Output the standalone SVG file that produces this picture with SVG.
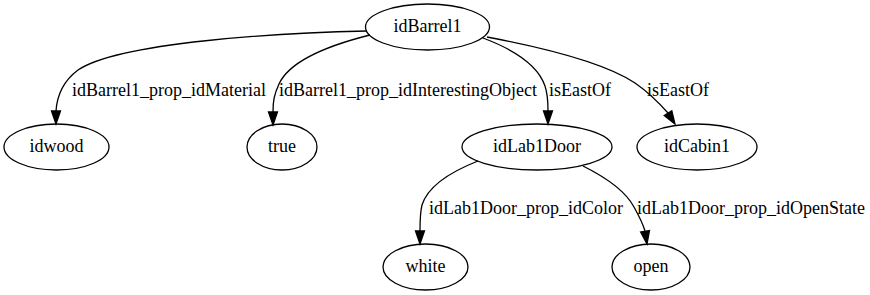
<svg xmlns="http://www.w3.org/2000/svg" width="870" height="295" viewBox="0 0 870 295">
  <style>
    .node ellipse { fill: none; stroke: #000; stroke-width: 1.3; }
    .node text, .edge text { font-family: "Liberation Serif", "Times New Roman", serif; font-size: 18px; fill: #000; text-anchor: middle; }
    .edge path { fill: none; stroke: #000; stroke-width: 1.3; }
    .edge polygon { fill: #000; stroke: #000; stroke-width: 1.3; }
  </style>
  <rect width="870" height="295" fill="#fff"/>

  <!-- connectors -->
  <g id="edges">
    <g class="edge" id="e_barrel_wood">
      <path d="M367,31 C280,33 120,42 78,70 C62,82 57,96 56,111"/>
      <polygon points="51.5,111 56,124 60.5,111"/>
      <text x="169" y="96">idBarrel1_prop_idMaterial</text>
    </g>
    <g class="edge" id="e_barrel_true">
      <path d="M370,35 C330,45 290,60 279,84 C274,95 273,101 273,112"/>
      <polygon points="268.5,112 273,125 277.5,112"/>
      <text x="408" y="96">idBarrel1_prop_idInterestingObject</text>
    </g>
    <g class="edge" id="e_barrel_door">
      <path d="M483,38 C515,50 538,65 545,86 C548,95 548,103 548,111"/>
      <polygon points="543.5,111 548,124 552.5,111"/>
      <text x="580" y="96">isEastOf</text>
    </g>
    <g class="edge" id="e_barrel_cabin">
      <path d="M487,37 C545,48 605,63 635,83 C648,92 660,104 668,113"/>
      <polygon points="664.2,115.6 675,124 671.8,110.8"/>
      <text x="678" y="96">isEastOf</text>
    </g>
    <g class="edge" id="e_door_white">
      <path d="M478,161 C450,172 428,186 422,205 C420,213 420,222 420,231"/>
      <polygon points="415.5,231 420,244 424.5,231"/>
      <text x="526" y="214">idLab1Door_prop_idColor</text>
    </g>
    <g class="edge" id="e_door_open">
      <path d="M583,166 C605,177 625,190 634,207 C639,216 643,224 645,231"/>
      <polygon points="640.6,231.9 647,244 649.5,230.5"/>
      <text x="751" y="214">idLab1Door_prop_idOpenState</text>
    </g>
  </g>

  <!-- nodes -->
  <g class="node" id="idBarrel1">
    <ellipse cx="427.5" cy="27" rx="62" ry="23"/>
    <text x="427.5" y="32">idBarrel1</text>
  </g>
  <g class="node" id="idwood">
    <ellipse cx="56.5" cy="147" rx="52.5" ry="23"/>
    <text x="56.5" y="152">idwood</text>
  </g>
  <g class="node" id="true">
    <ellipse cx="282" cy="147" rx="35" ry="23"/>
    <text x="282" y="152">true</text>
  </g>
  <g class="node" id="idLab1Door">
    <ellipse cx="537" cy="147" rx="75" ry="23"/>
    <text x="537" y="152">idLab1Door</text>
  </g>
  <g class="node" id="idCabin1">
    <ellipse cx="697" cy="147" rx="60" ry="23"/>
    <text x="697" y="152">idCabin1</text>
  </g>
  <g class="node" id="white">
    <ellipse cx="425.5" cy="267" rx="42.5" ry="23"/>
    <text x="425.5" y="272">white</text>
  </g>
  <g class="node" id="open">
    <ellipse cx="651" cy="267" rx="39" ry="23"/>
    <text x="651" y="272">open</text>
  </g>
</svg>
